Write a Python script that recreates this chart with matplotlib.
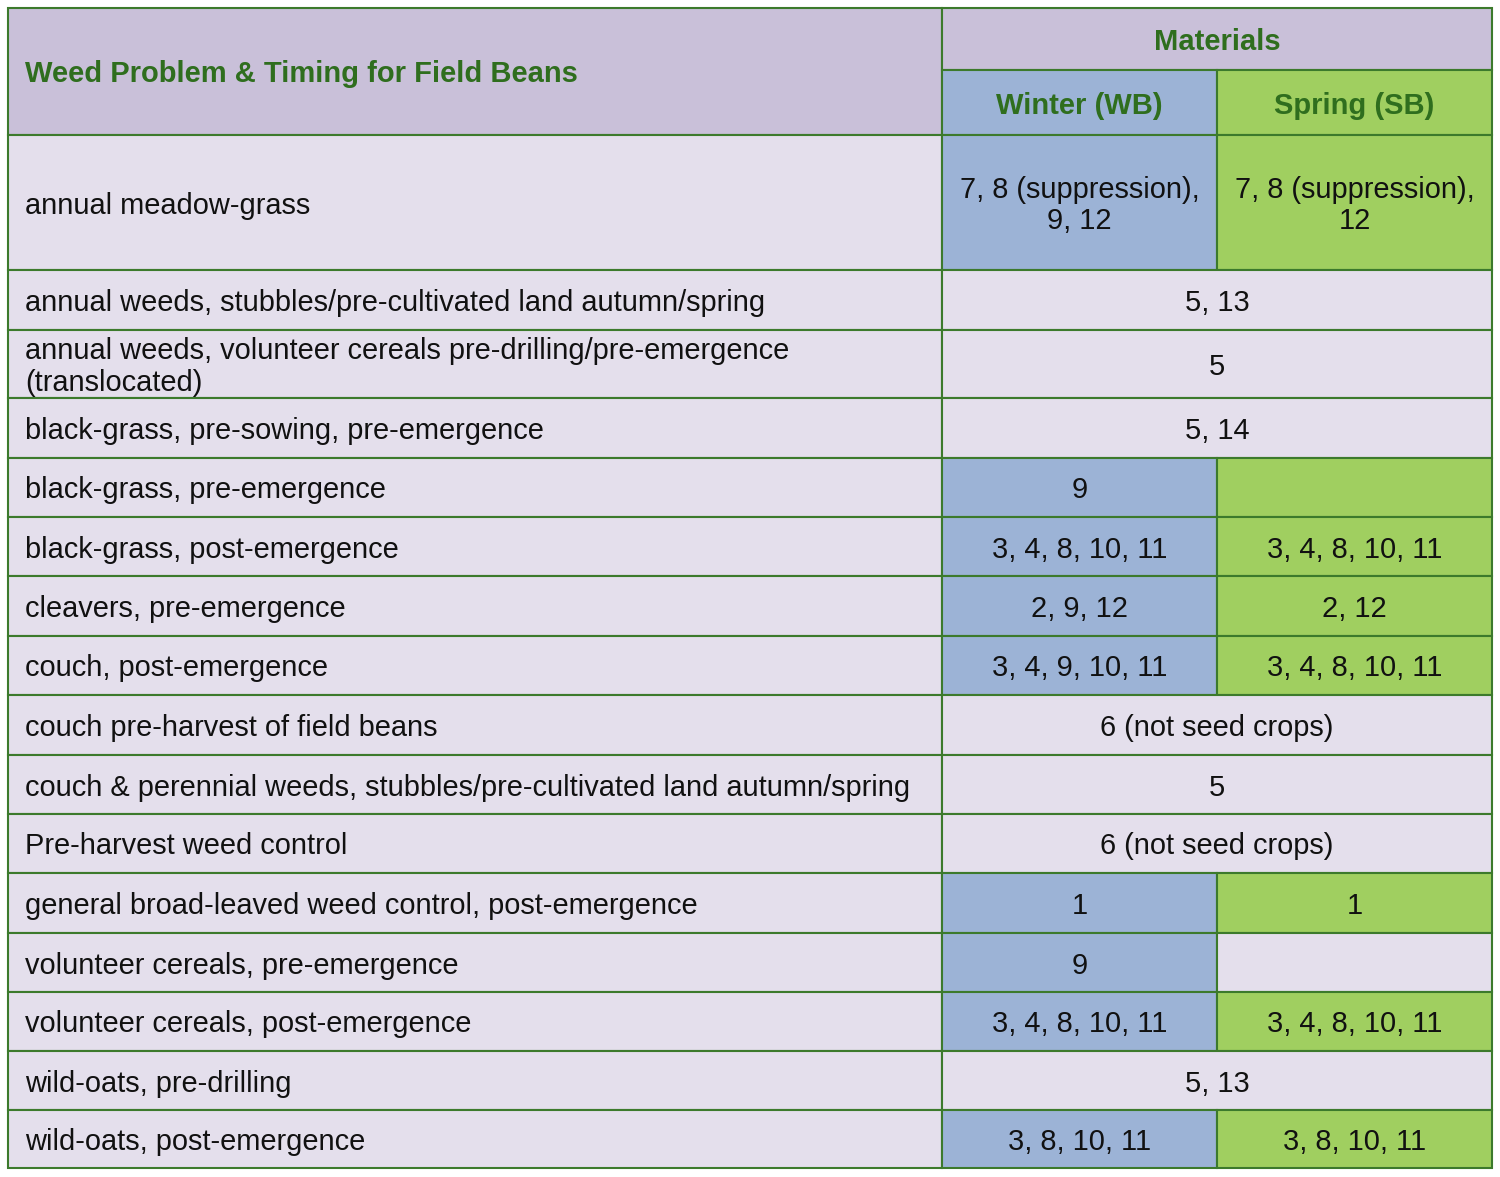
import matplotlib
matplotlib.use('Agg')
import matplotlib.pyplot as plt
from matplotlib.patches import Rectangle

# table content
title = "Weed Problem & Timing for Field Beans"
group_header = "Materials"
col_headers = ["Winter (WB)", "Spring (SB)"]

problems = [
    "annual meadow-grass",
    "annual weeds, stubbles/pre-cultivated land autumn/spring",
    "annual weeds, volunteer cereals pre-drilling/pre-emergence\n(translocated)",
    "black-grass, pre-sowing, pre-emergence",
    "black-grass, pre-emergence",
    "black-grass, post-emergence",
    "cleavers, pre-emergence",
    "couch, post-emergence",
    "couch pre-harvest of field beans",
    "couch & perennial weeds, stubbles/pre-cultivated land autumn/spring",
    "Pre-harvest weed control",
    "general broad-leaved weed control, post-emergence",
    "volunteer cereals, pre-emergence",
    "volunteer cereals, post-emergence",
    "wild-oats, pre-drilling",
    "wild-oats, post-emergence",
]
winter = [
    "7, 8 (suppression),\n9, 12", "5, 13", "5", "5, 14", "9", "3, 4, 8, 10, 11",
    "2, 9, 12", "3, 4, 9, 10, 11", "6 (not seed crops)", "5", "6 (not seed crops)",
    "1", "9", "3, 4, 8, 10, 11", "5, 13", "3, 8, 10, 11",
]
spring = [
    "7, 8 (suppression),\n12", None, None, None, "", "3, 4, 8, 10, 11",
    "2, 12", "3, 4, 8, 10, 11", None, None, None,
    "1", "", "3, 4, 8, 10, 11", None, "3, 8, 10, 11",
]
# None = one value shared by both seasons (merged cell)
# spring cell left unshaded in this row
spring_unshaded = [12]

# layout (pixels)
col_edges = [8, 942, 1217, 1492]
header_edges = [8, 70, 135]
row_heights = [135, 60, 68, 60, 59, 59, 60, 59, 60, 59, 59, 60, 59, 59, 59, 58]

HEAD_BG = '#C9C0D9'
ROW_BG = '#E4DFEC'
BLUE = '#9CB3D6'
GREEN = '#A0CF60'
LINE = '#3C7A2C'
HEAD_TXT = '#2F6E1E'
FONT = ['Liberation Sans', 'DejaVu Sans']
BODY_SIZE = 20.9
HEAD_SIZE = 21

fig = plt.figure(figsize=(15, 11.77), dpi=100)
ax = fig.add_axes([0, 0, 1, 1])
ax.set_xlim(0, 1500)
ax.set_ylim(1177, 0)
ax.axis('off')


def cell(x0, x1, y0, y1, bg, text=None, **kw):
    ax.add_patch(Rectangle((x0, y0), x1 - x0, y1 - y0, facecolor=bg,
                           edgecolor=LINE, linewidth=1.5))
    if text:
        ha = kw.pop('ha', 'center')
        tx = x0 + 17 if ha == 'left' else (x0 + x1) / 2
        ax.text(tx, (y0 + y1) / 2 + 3, text, ha=ha, va='center',
                family=FONT, linespacing=1.15, **kw)


# header
hd = dict(fontsize=HEAD_SIZE, fontweight='bold', color=HEAD_TXT)
cell(col_edges[0], col_edges[1], header_edges[0], header_edges[2], HEAD_BG,
     title, ha='left', **hd)
cell(col_edges[1], col_edges[3], header_edges[0], header_edges[1], HEAD_BG,
     group_header, **hd)
cell(col_edges[1], col_edges[2], header_edges[1], header_edges[2], BLUE,
     col_headers[0], **hd)
cell(col_edges[2], col_edges[3], header_edges[1], header_edges[2], GREEN,
     col_headers[1], **hd)

y = header_edges[2]
for i, label in enumerate(problems):
    y1 = y + row_heights[i]
    cell(col_edges[0], col_edges[1], y, y1, ROW_BG, label, ha='left',
         fontsize=BODY_SIZE, color='#111111')
    if spring[i] is None:
        cell(col_edges[1], col_edges[3], y, y1, ROW_BG, winter[i],
             fontsize=BODY_SIZE, color='#111111')
    else:
        cell(col_edges[1], col_edges[2], y, y1, BLUE, winter[i],
             fontsize=BODY_SIZE, color='#111111')
        sc = ROW_BG if i in spring_unshaded else GREEN
        cell(col_edges[2], col_edges[3], y, y1, sc, spring[i],
             fontsize=BODY_SIZE, color='#111111')
    y = y1

plt.savefig('out.png', dpi=100)
